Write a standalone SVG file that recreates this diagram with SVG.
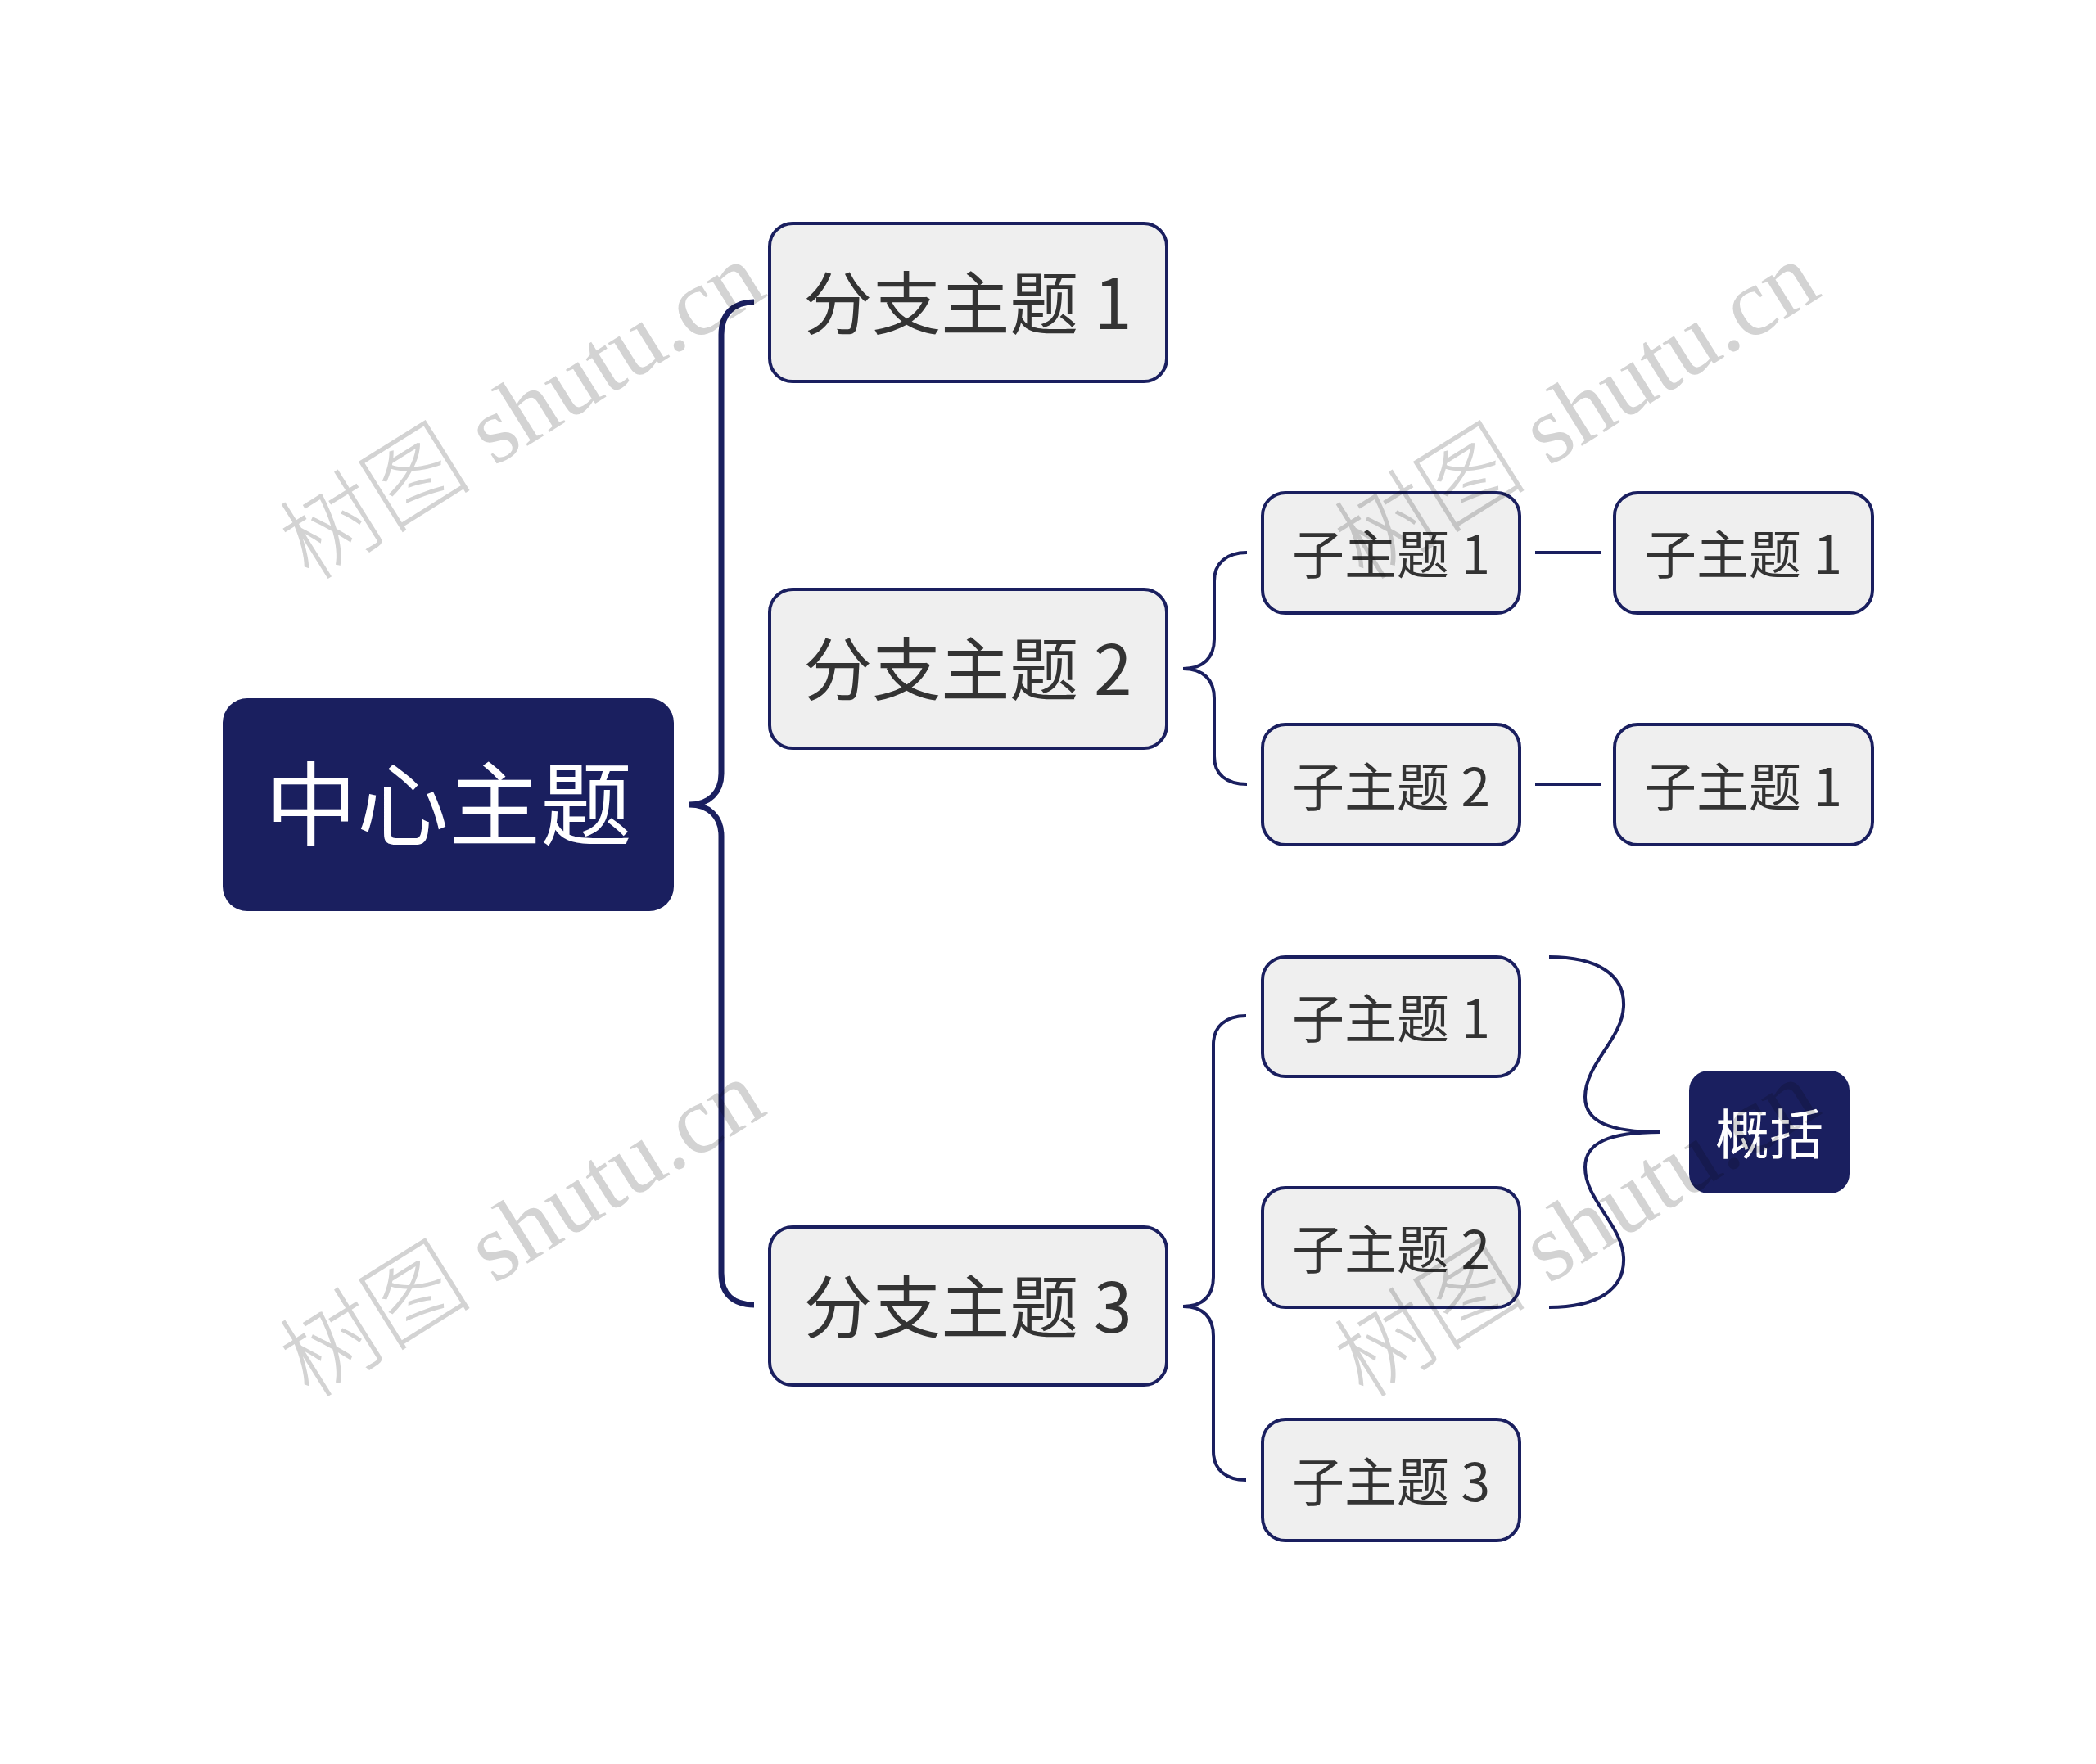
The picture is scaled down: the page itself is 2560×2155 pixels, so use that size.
<svg xmlns="http://www.w3.org/2000/svg" width="2560" height="2155" viewBox="0 0 2560 2155">
<style>
.bg{fill:#ffffff}
.dark{fill:#1a1f5f}
.light{fill:#efefef;stroke:#1a1f5f;stroke-width:4}
.t{font-family:"Noto Sans CJK SC","Liberation Sans",sans-serif;text-anchor:middle}
.tw{fill:#ffffff}
.tg{fill:#333333}
.thick{fill:none;stroke:#1a1f5f;stroke-width:7;stroke-linecap:butt}
.thin{fill:none;stroke:#1a1f5f;stroke-width:4}
.wm{font-family:"Liberation Serif","Noto Sans CJK SC",serif;font-size:118px;fill:#d3d3d3;mix-blend-mode:multiply}
</style>
<rect class="bg" x="0" y="0" width="2560" height="2155"/>
<g id="connectors">
<path class="thick" d="M921,369 C896,369 881,383 881,409 L881,945 C881,968 866,983 842,983 C866,983 881,998 881,1021 L881,1555 C881,1580 895,1594 921,1594"/>
<path class="thin" d="M1523,675 C1498,675 1483,688 1483,710 L1483,781 C1483,803 1470,817 1445,817 C1470,817 1483,831 1483,853 L1483,924 C1483,946 1498,958 1523,958"/>
<path class="thin" d="M1875,675 L1955,675"/>
<path class="thin" d="M1875,958 L1955,958"/>
<path class="thin" d="M1522,1241 C1497,1241 1482,1254 1482,1276 L1482,1560 C1482,1582 1470,1596 1445,1596 C1470,1596 1482,1610 1482,1632 L1482,1773 C1482,1795 1497,1808 1522,1808"/>
<path class="thin" d="M1892,1169 C1950,1169 1985,1190 1983,1230 C1981,1270 1936,1300 1936,1340 C1936,1370 1965,1383 2028,1383 C1965,1383 1936,1396 1936,1426 C1936,1466 1981,1496 1983,1536 C1985,1576 1950,1597 1892,1597"/>
</g>
<g id="node-center">
<rect class="dark" x="272" y="853" width="551" height="260" rx="30"/>
<text class="t tw" x="548" y="1025" font-size="112">中心主题</text>
</g>
<g id="node-b1">
<rect class="light" x="940" y="273" width="485" height="193" rx="28"/>
<text class="t tg" x="1182" y="402" font-size="84">分支主题 1</text>
</g>
<g id="node-b2">
<rect class="light" x="940" y="720" width="485" height="194" rx="28"/>
<text class="t tg" x="1182" y="849" font-size="84">分支主题 2</text>
</g>
<g id="node-b3">
<rect class="light" x="940" y="1499" width="485" height="193" rx="28"/>
<text class="t tg" x="1182" y="1628" font-size="84">分支主题 3</text>
</g>
<g id="node-b2-1">
<rect class="light" x="1542" y="602" width="314" height="147" rx="28"/>
<text class="t tg" x="1699" y="701" font-size="64">子主题 1</text>
</g>
<g id="node-b2-2">
<rect class="light" x="1542" y="885" width="314" height="147" rx="28"/>
<text class="t tg" x="1699" y="985" font-size="64">子主题 2</text>
</g>
<g id="node-b2-1-1">
<rect class="light" x="1972" y="602" width="315" height="147" rx="28"/>
<text class="t tg" x="2129" y="701" font-size="64">子主题 1</text>
</g>
<g id="node-b2-2-1">
<rect class="light" x="1972" y="885" width="315" height="147" rx="28"/>
<text class="t tg" x="2129" y="985" font-size="64">子主题 1</text>
</g>
<g id="node-b3-1">
<rect class="light" x="1542" y="1169" width="314" height="146" rx="28"/>
<text class="t tg" x="1699" y="1268" font-size="64">子主题 1</text>
</g>
<g id="node-b3-2">
<rect class="light" x="1542" y="1451" width="314" height="146" rx="28"/>
<text class="t tg" x="1699" y="1550" font-size="64">子主题 2</text>
</g>
<g id="node-b3-3">
<rect class="light" x="1542" y="1734" width="314" height="148" rx="28"/>
<text class="t tg" x="1699" y="1834" font-size="64">子主题 3</text>
</g>
<g id="node-summary">
<rect class="dark" x="2063" y="1308" width="196" height="150" rx="24"/>
<text class="t tw" x="2161" y="1410" font-size="66">概括</text>
</g>
<g id="watermarks">
<text class="wm" transform="translate(378,711) rotate(-32)"><tspan font-family="Noto Sans CJK SC,sans-serif" font-weight="300">树图</tspan> shutu.cn</text>
<text class="wm" transform="translate(378,1710) rotate(-32)"><tspan font-family="Noto Sans CJK SC,sans-serif" font-weight="300">树图</tspan> shutu.cn</text>
<text class="wm" transform="translate(1666,711) rotate(-32)"><tspan font-family="Noto Sans CJK SC,sans-serif" font-weight="300">树图</tspan> shutu.cn</text>
<text class="wm" transform="translate(1666,1710) rotate(-32)"><tspan font-family="Noto Sans CJK SC,sans-serif" font-weight="300">树图</tspan> shutu.cn</text>
</g>
</svg>
